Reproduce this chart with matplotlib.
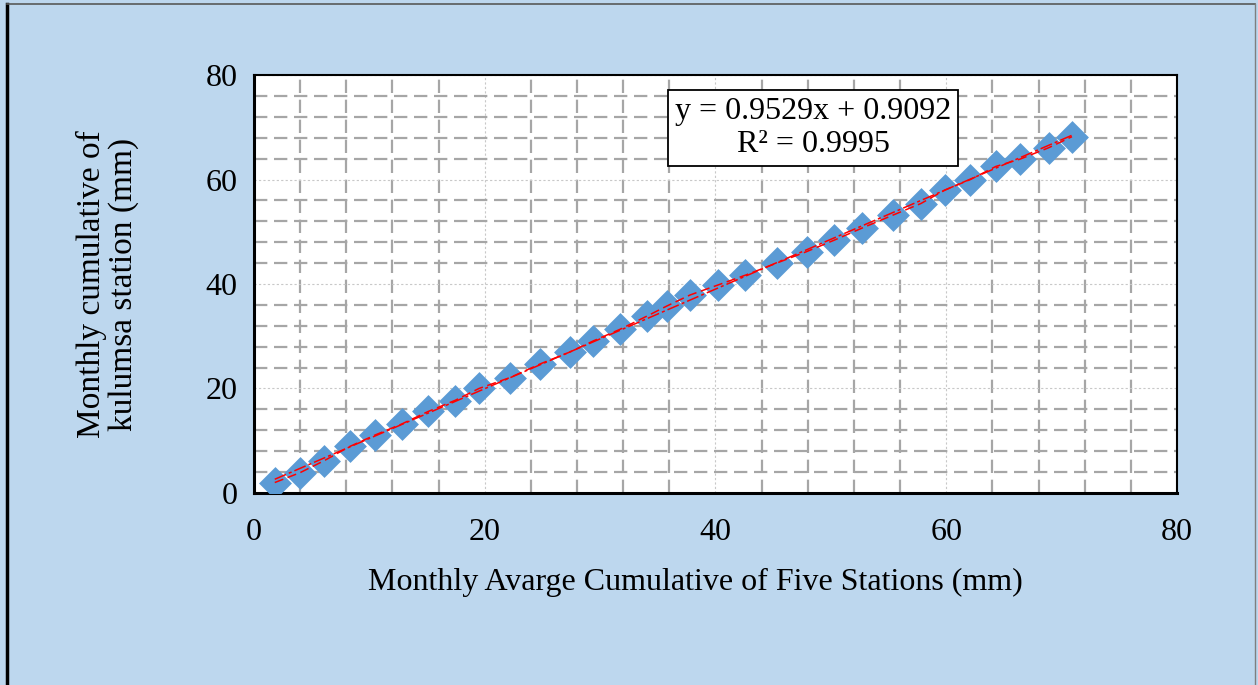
import numpy as np
import matplotlib
matplotlib.use("Agg")
import matplotlib.pyplot as plt
from matplotlib.lines import Line2D
from matplotlib.ticker import MultipleLocator

plt.rcParams['font.family'] = ['Liberation Serif', 'DejaVu Serif']

# data
five_stations = [1.8, 4.0, 6.1, 8.3, 10.5, 12.8, 15.1, 17.4, 19.5, 22.2, 24.8,
                 27.4, 29.4, 31.7, 34.1, 35.8, 37.8, 40.2, 42.6, 45.3, 47.9,
                 50.3, 52.7, 55.4, 57.8, 59.9, 62.1, 64.3, 66.4, 68.9, 70.9]
kulumsa = [2.0, 3.9, 6.2, 8.9, 11.1, 13.2, 15.6, 17.7, 20.0, 22.1, 24.7,
           27.0, 29.1, 31.3, 33.9, 35.8, 37.9, 39.8, 41.7, 44.0, 46.2,
           48.4, 50.7, 53.2, 55.4, 58.0, 60.0, 62.5, 63.9, 66.1, 68.2]
slope = 0.9529
intercept = 0.9092
r2 = 0.9995

fig = plt.figure(figsize=(12.58, 6.85), dpi=100, facecolor='#BDD7EE')
ax = fig.add_axes([0.2019, 0.2803, 0.7337, 0.6102])
ax.set_facecolor('white')

ax.set_xlim(0, 80)
ax.set_ylim(0, 80)
ax.xaxis.set_major_locator(MultipleLocator(20))
ax.yaxis.set_major_locator(MultipleLocator(20))
ax.xaxis.set_minor_locator(MultipleLocator(4))
ax.yaxis.set_minor_locator(MultipleLocator(4))
ax.grid(which='major', color='#C8C8C8', linestyle=(0, (2, 2)), linewidth=0.8)
ax.grid(which='minor', color='#A6A6A6', linestyle=(0, (6, 3)), linewidth=1.6)
ax.set_axisbelow(True)
ax.tick_params(which='both', length=0, labelsize=23)
ax.tick_params(axis='x', pad=18)
ax.tick_params(axis='y', pad=12)

for side in ['top', 'right']:
    ax.spines[side].set_linewidth(1.5)
for side in ['left', 'bottom']:
    ax.spines[side].set_linewidth(2.2)

# points
ax.plot(five_stations, kulumsa, linestyle='none', marker='D', markersize=13,
        color='#5B9BD5', markeredgecolor='#5B9BD5', markeredgewidth=3.5,
        zorder=3)
ax.plot(five_stations, kulumsa, color='red', linestyle=(0, (6, 3)),
        linewidth=1.1, zorder=4)

# trendline
xs = np.array([five_stations[0], five_stations[-1]])
ax.plot(xs, slope * xs + intercept, color='red', linestyle=(0, (8, 2, 2, 2)),
        linewidth=1.1, zorder=4)

ax.text(0.606, 0.873, "y = 0.9529x + 0.9092\nR² = 0.9995", transform=ax.transAxes,
        ha='center', va='center', fontsize=23, linespacing=1.2,
        bbox=dict(boxstyle='square,pad=0.22', facecolor='white', edgecolor='black', linewidth=1.3))

ax.set_xlabel("Monthly Avarge Cumulative of Five Stations (mm)", fontsize=23, labelpad=15)
ax.xaxis.label.set_x(0.478)
ax.set_ylabel("Monthly cumulative of\nkulumsa station (mm)", fontsize=24, labelpad=48,
              linespacing=1.05)

# outer frame
fig.add_artist(Line2D([0.0056, 0.0056], [0, 0.994], color='black', linewidth=2.5,
                      transform=fig.transFigure))
fig.add_artist(Line2D([0.0056, 0.998], [0.994, 0.994], color='#595959', linewidth=1.2,
                      transform=fig.transFigure))
fig.add_artist(Line2D([0.998, 0.998], [0, 0.994], color='#7F7F7F', linewidth=1.0,
                      transform=fig.transFigure))

fig.savefig("out.png", dpi=100, facecolor=fig.get_facecolor())
